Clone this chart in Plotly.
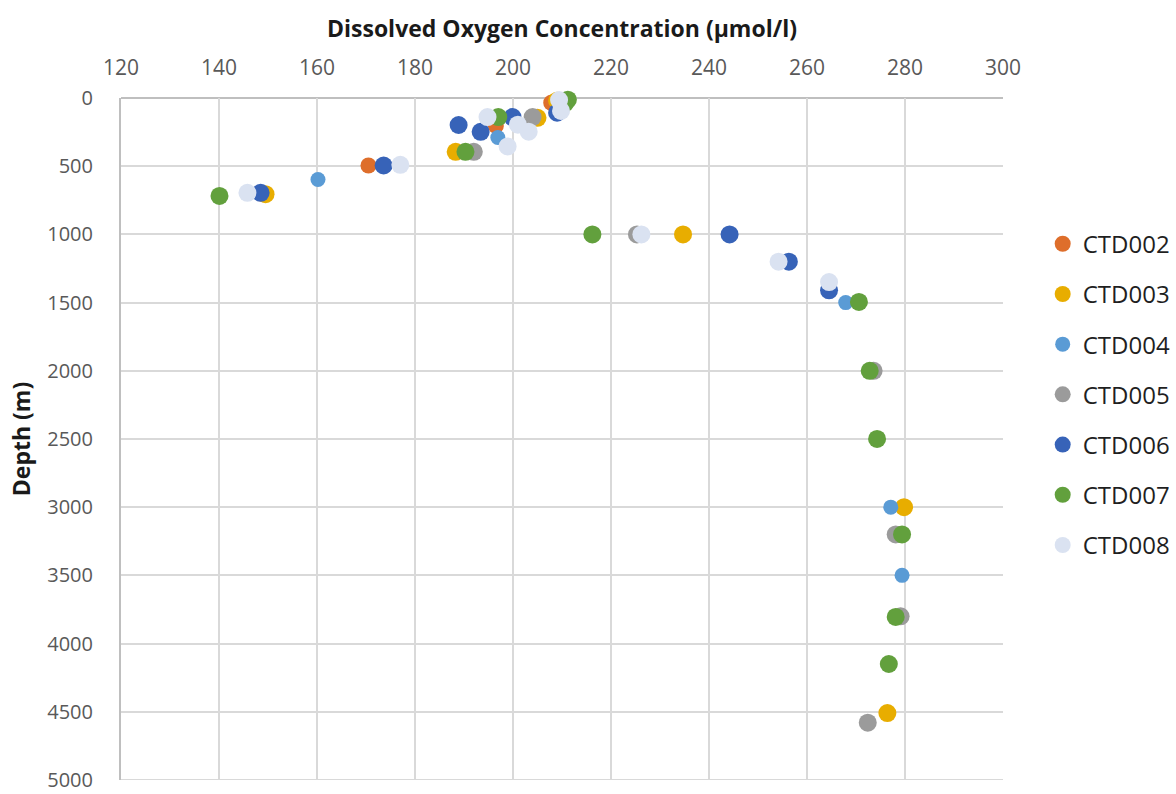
import plotly.graph_objects as go

# Dissolved oxygen profiles (µmol/l) against depth (m) for each CTD cast
ctd002_oxygen = [207.8, 196.5, 170.5, 148.6]
ctd002_depth = [35, 205, 495, 700]

ctd003_oxygen = [209.0, 205.0, 188.3, 149.5, 234.7, 279.8, 276.4]
ctd003_depth = [20, 145, 395, 705, 1000, 3000, 4510]

ctd004_oxygen = [196.9, 160.2, 267.9, 277.1, 279.4]
ctd004_depth = [290, 598, 1500, 3000, 3500]

ctd005_oxygen = [204.0, 192.0, 225.3, 273.6, 278.1, 279.1, 272.4]
ctd005_depth = [140, 395, 1000, 2000, 3200, 3800, 4580]

ctd006_oxygen = [209.0, 199.9, 188.9, 193.4, 173.6, 148.5, 244.2, 256.3, 264.5]
ctd006_depth = [108, 140, 198, 248, 495, 695, 1000, 1200, 1410]

ctd007_oxygen = [211.2, 210.6, 197.0, 190.3, 140.1, 216.2, 270.6, 272.8, 274.3, 279.4, 278.1, 276.7]
ctd007_depth = [12, 40, 140, 395, 718, 1000, 1495, 2000, 2500, 3200, 3805, 4150]

ctd008_oxygen = [209.4, 209.8, 194.8, 201.0, 203.2, 198.9, 177.0, 145.8, 226.2, 254.2, 264.5]
ctd008_depth = [15, 95, 140, 196, 247, 355, 490, 695, 1000, 1200, 1350]

casts = ["CTD002", "CTD003", "CTD004", "CTD005", "CTD006", "CTD007", "CTD008"]
oxygen = [ctd002_oxygen, ctd003_oxygen, ctd004_oxygen, ctd005_oxygen,
          ctd006_oxygen, ctd007_oxygen, ctd008_oxygen]
depth = [ctd002_depth, ctd003_depth, ctd004_depth, ctd005_depth,
         ctd006_depth, ctd007_depth, ctd008_depth]

x_ticks = [120, 140, 160, 180, 200, 220, 240, 260, 280, 300]
y_ticks = [0, 500, 1000, 1500, 2000, 2500, 3000, 3500, 4000, 4500, 5000]

colors = ["#DE6E2B", "#E8AD00", "#5A9BD5", "#9B9B9B", "#3763B8", "#62A03D", "#DAE2F1"]
sizes = [16, 18, 15, 18, 18, 18, 18]

FONT = "Open Sans"

fig = go.Figure()
for name, xs, ys, col, sz in zip(casts, oxygen, depth, colors, sizes):
    fig.add_trace(go.Scatter(
        x=xs, y=ys, mode="markers", name=name, legendgroup=name,
        marker=dict(color=col, size=sz, line=dict(width=0)),
        cliponaxis=False,
    ))

fig.update_layout(
    width=1176, height=794,
    margin=dict(l=120.5, r=173, t=98, b=14, autoexpand=False),
    paper_bgcolor="white", plot_bgcolor="white",
    font=dict(family=FONT, color="#595959", size=21),
    showlegend=True,
    legend=dict(
        x=1.045, xref="paper", xanchor="left",
        y=0.565, yanchor="middle",
        font=dict(family=FONT, size=24, color="#1f1f1f"),
        tracegroupgap=16, itemsizing="trace",
        bgcolor="rgba(0,0,0,0)",
    ),
    xaxis=dict(
        side="top", range=[120, 300], tickvals=x_ticks,
        showgrid=True, gridcolor="#D9D9D9", gridwidth=2,
        zeroline=False, showline=False,
        ticks="", ticklabelstandoff=18,
        title=dict(text="<b>Dissolved Oxygen Concentration (µmol/l)</b>",
                   font=dict(family=FONT, size=23, color="#1a1a1a"), standoff=8),
    ),
    yaxis=dict(
        range=[5000.5, 0], tickvals=y_ticks,
        tickfont=dict(family=FONT, size=20, color="#595959"),
        showgrid=True, gridcolor="#D9D9D9", gridwidth=2,
        zeroline=False, showline=True, linecolor="#BFBFBF", linewidth=2,
        ticks="", ticklabelstandoff=22, ticklabeloverflow="allow",
        title=dict(text="<b>Depth (m)</b>",
                   font=dict(family=FONT, size=23, color="#1a1a1a"), standoff=10),
    ),
)

# axis line along the top edge and the closing line at the deepest tick
fig.add_shape(type="line", xref="paper", yref="paper", x0=0, x1=1, y0=1, y1=1,
              line=dict(color="#BFBFBF", width=2), layer="below")
fig.add_shape(type="line", xref="paper", yref="y", x0=0, x1=1, y0=5000, y1=5000,
              line=dict(color="#D9D9D9", width=2), layer="below")

fig.write_html("out.html")
